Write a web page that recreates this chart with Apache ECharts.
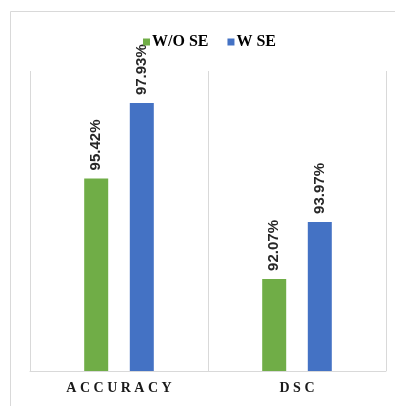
<!DOCTYPE html>
<html>
<head>
<meta charset="utf-8">
<script src="https://cdn.jsdelivr.net/npm/echarts@6/dist/echarts.min.js"></script>
<style>
  html, body { margin: 0; padding: 0; background: #fff; }
  #chart { width: 395px; height: 406px; }
</style>
</head>
<body>
<div id="chart"></div>
<script>
// Metrics compared with and without the SE block
const categories = ['ACCURACY', 'DSC'];
const seriesNames = ['W/O SE', 'W SE'];
const withoutSE = [95.42, 92.07];
const withSE = [97.93, 93.97];

const chart = echarts.init(document.getElementById('chart'));

const labelStyle = {
  show: true,
  position: 'top',
  rotate: 90,
  align: 'left',
  verticalAlign: 'middle',
  distance: 8,
  fontFamily: 'Liberation Sans',
  fontWeight: 'bold',
  fontSize: 15,
  color: '#262626',
  formatter: p => p.value.toFixed(2) + '%'
};

chart.setOption({
  animation: false,
  backgroundColor: '#fff',
  graphic: [{
    type: 'rect',
    shape: { x: 10.5, y: 11.5, width: 400, height: 400 },
    style: { fill: 'none', stroke: '#d9d9d9', lineWidth: 1 },
    silent: true
  }],
  legend: {
    data: seriesNames,
    left: 138,
    top: 29,
    itemWidth: 7,
    itemHeight: 7,
    itemGap: 19,
    icon: 'rect',
    textStyle: {
      fontFamily: 'Liberation Serif',
      fontWeight: 'bold',
      fontSize: 16,
      color: '#000',
      padding: [0, 0, 0, -3]
    }
  },
  grid: { left: 30, right: 9, top: 71, bottom: 35 },
  xAxis: {
    type: 'category',
    data: categories,
    axisLine: { show: true, lineStyle: { color: '#d9d9d9', width: 1 } },
    axisTick: { show: false },
    splitLine: { show: true, lineStyle: { color: '#d9d9d9', width: 1 } },
    axisLabel: {
      margin: 10,
      fontFamily: 'Liberation Serif',
      fontWeight: 'bold',
      fontSize: 14,
      color: '#1a1a1a',
      formatter: v => v.split('').join(' ')
    }
  },
  yAxis: {
    type: 'value',
    min: 89,
    max: 99,
    show: false,
    splitLine: { show: false }
  },
  series: [
    {
      name: seriesNames[0],
      type: 'bar',
      data: withoutSE,
      barWidth: 24,
      barGap: '90%',
      itemStyle: { color: '#70ad47' },
      label: labelStyle
    },
    {
      name: seriesNames[1],
      type: 'bar',
      data: withSE,
      barWidth: 24,
      barGap: '90%',
      itemStyle: { color: '#4472c4' },
      label: labelStyle
    }
  ]
});
</script>
</body>
</html>
